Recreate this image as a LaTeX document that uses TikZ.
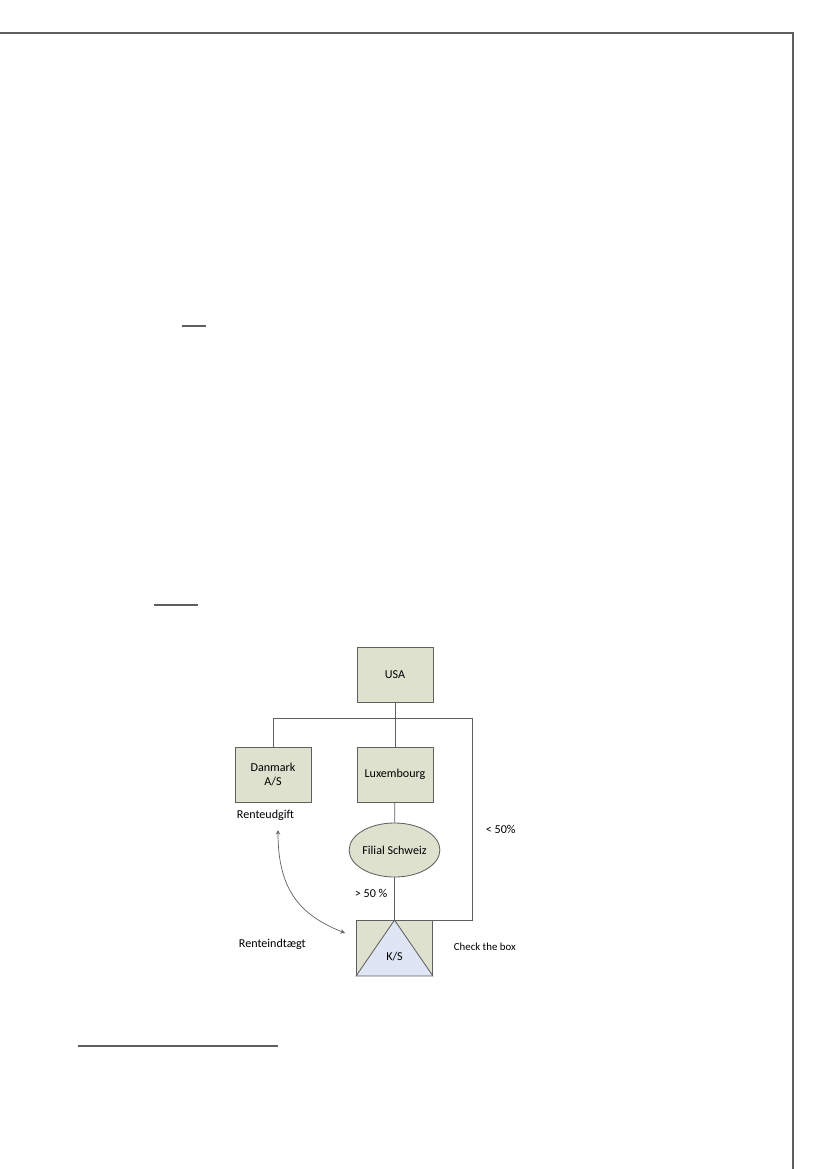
\documentclass[tikz,border=0pt]{standalone}
\usepackage{fontspec}
\setmainfont{Carlito}
\usetikzlibrary{shapes.geometric,arrows}
\definecolor{boxgreen}{RGB}{221,225,205}
\definecolor{triblue}{RGB}{222,229,244}
\definecolor{edge}{RGB}{95,95,95}

\begin{document}
\begin{tikzpicture}[x=0.72pt,y=-0.72pt,
  every node/.style={font=\fontsize{8.7}{10}\selectfont},
  unit/.style={draw=edge, fill=boxgreen, line width=0.6pt, minimum width=54.7pt, minimum height=39.6pt, inner sep=0pt, align=center},
  branch/.style={draw=edge, fill=boxgreen, line width=0.6pt, ellipse, minimum width=55.4pt, minimum height=38.9pt, inner sep=0pt},
  link/.style={draw=edge, line width=0.6pt},
  rule/.style={draw=edge, line width=0.9pt}]
\useasboundingbox (0,0) rectangle (827,1169);
% page frame and text rules
\draw[rule] (0,33) -- (793,33) -- (793,1169);
\draw[rule] (182,326) -- (206,326);
\draw[rule] (154,605) -- (198,605);
\draw[rule] (78,1046) -- (278,1046);
% entities
\node[unit] (usa) at (395,674.5) {USA};
\node[unit] (danmark) at (273,774.5) {Danmark\\A/S};
\node[unit] (lux) at (395,774.5) {Luxembourg};
\node[branch] (filial) at (394.5,850) {Filial Schweiz};
\node[unit] (ks) at (394.5,948) {};
\fill[triblue, draw=edge, line width=0.6pt] (ks.north) -- (ks.south east) -- (ks.south west) -- cycle;
\node (kslabel) at (394.5,957) {K/S};
% ownership lines
\coordinate (rgt) at (472,718);
\draw[link] (usa) -- (lux);
\draw[link] (danmark.north) |- (rgt) |- (ks.north east);
\draw[link] (lux) -- (filial);
\draw[link] (filial) -- (ks.north);
% labels
\node[anchor=west] (udgift) at (232,815) {Renteudgift};
\node[anchor=west] (indtaegt) at (234,944) {Renteindtægt};
\node[anchor=west] (lt) at (481,829) {< 50\%};
\node[anchor=west] (gt) at (350,893) {> 50 \%};
\node[anchor=west, font=\fontsize{7.8}{9}\selectfont] (ctb) at (449,947) {Check the box};
% interest flow
\coordinate (a1) at (278,830);
\coordinate (a2) at (345,933);
\draw[<->, >=stealth, draw=edge, line width=0.5pt] (a1) .. controls (278,890) and (300,915) .. (a2);
\end{tikzpicture}
\end{document}
